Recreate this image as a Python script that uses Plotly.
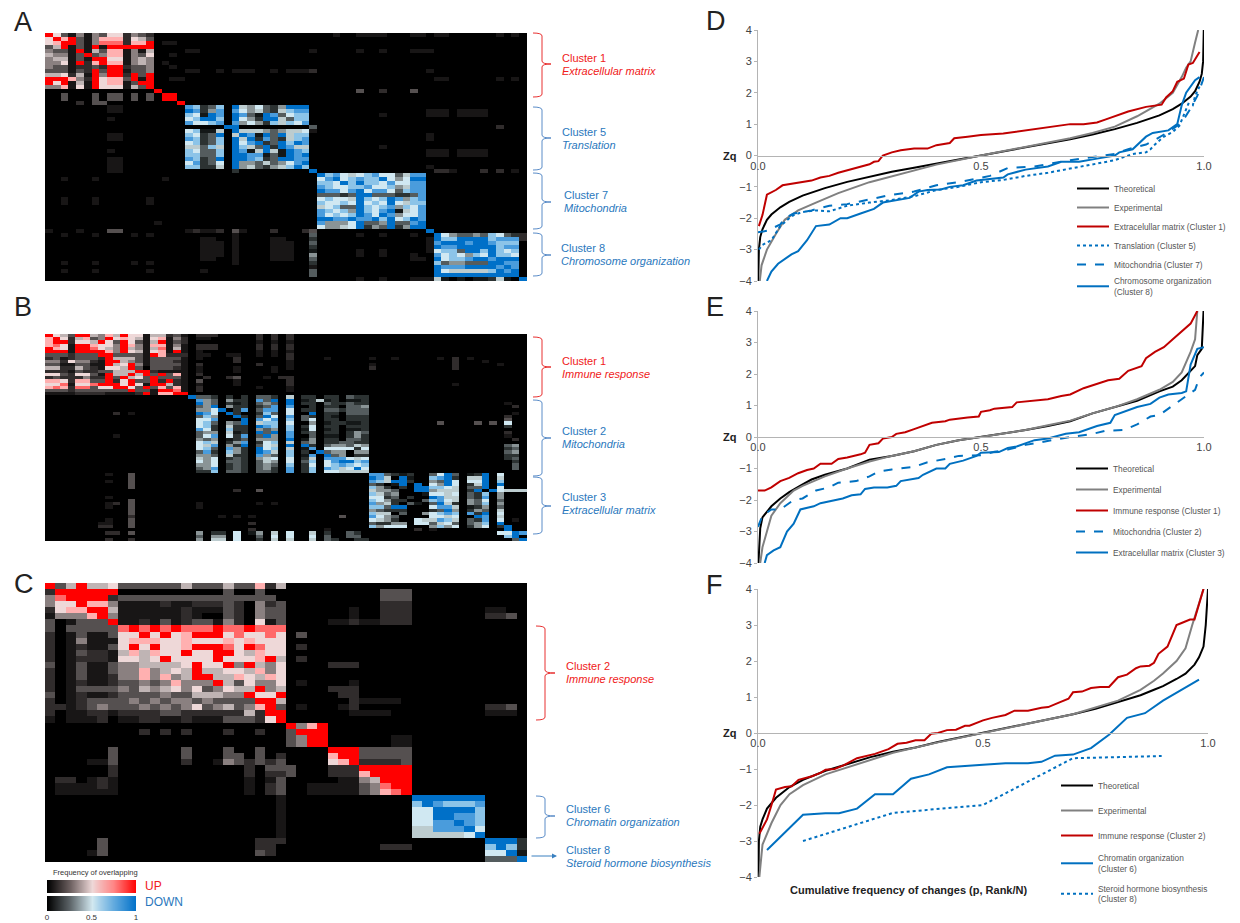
import plotly.graph_objects as go

W, H = 1240, 923
FONT = "Liberation Sans"
RED_TXT, BLUE_TXT = "#f02020", "#2a78bd"

# Heatmap cells: each row is "col:levels" tokens. 1-9 = up levels, a-i = down levels, . = 0
A_ROWS = [
"0:96314143662432 37:1 40:1111 47:11 50:11 58:1 60:1",
"0:69793147772653",
"0:67993148882779 15:11",
"0:35913191999999",
"0:43319153771415 18:1 19:1 34:1 40:1 43:1 47:111",
"0:54413934771436 16:1",
"0:45513199661454",
"0:44619279771454 15:1",
"0:43312232992334 16:1",
"0:33313293991334 18:11 22:1 24:111 29:1 31:111 34:2 49:1",
"0:55625194992939",
"0:99974296773919 16:11 50:11 58:1 60:1",
"0:96915196771399",
"0:44716196661539",
"14:9 40:3 43:2 47:3",
"2:3 6:3 8:33 11:3 13:3 15:99",
"2:3 6:3 8:33 11:3 13:3 15:99",
"4:2 6:33 17:9",
"8:11 18:hgbcg 24:iedfcbdiii",
"8:11 18:ihbdh 24:hfdecbeghh 49:11 51:1 53:1111",
"18:gfaih 24:ihcaihcfgg 43:1 49:11 51:1 53:1111",
"8:1 18:fgiig 24:ifdbiiecgg",
"18:hffgh 24:hdfdbgegfh",
"23:ii 34:c 58:2",
"18:fgaae 24:ieeedcdeef 34:1",
"8:11 18:gfbci 24:eihaiciegg 49:1",
"8:11 18:hgbcg 24:ieibhcbegh 49:1",
"18:fgbcg 24:ifhibcigih",
"18:eecge 24:igecibihee 43:1",
"8:1 18:gfccg 24:ihaeieaihg 49:11 51:1 53:1111",
"18:ggccg 24:iihhacaihi 49:11 51:1 53:1111",
"8:11 18:hgbci 24:iihgbciihh",
"8:11 18:fhbcf 24:iddcecdfhi",
"8:11 18:ggbbe 24:idecbdegig 49:1",
"8:11 24:b 34:i 50:22 52:1 56:2 58:2 60:1",
"35:ighfefghffcehh",
"2:1 6:1 15:1 35:fhifghggifdfii",
"35:ggfigiggfhffhh",
"35:hgffgghffgdehh",
"35:ihhfhifhhfcghh",
"35:cccbciicccbbch",
"2:1 6:1 13:1 35:fgffeigfgihdgh",
"2:1 6:1 13:1 35:gffgfifgfifegg",
"35:efgccigfghdgfh",
"35:hgfgdigfhiaefh",
"35:hfgfgihfihdffh",
"35:iihhihhigifgih",
"35:hdddficcdicchi 14:1",
"35:fddefibdcibdii",
"0:1 4:1 8:33 18:1 19:2 20:11 22:2 24:3 25:1 29:2 33:2 34:3 49:i",
"2:1 6:1 11:1 13:1 24:1 34:c 40:1 43:1 47:1 50:ifdccdcgfcb 61:2",
"20:11 24:1 29:11 34:b 49:1 50:iggiiiighhh 61:2",
"20:111 24:1 29:111 34:c 49:1 50:hiiihiihggg",
"20:111 24:1 29:111 34:b 49:1 50:ihhiiiiighh",
"20:111 24:1 29:111 34:a 40:1 43:1 49:1 50:fggciigigfg",
"20:111 24:1 29:111 34:d 40:1 43:1 47:1 50:hfgfdgfiggf",
"20:11 24:1 29:111 34:c 47:11 50:ifgghiihiii",
"2:1 6:1 11:1 13:1 24:1 34:b 50:gcddccciihh",
"34:1 50:ihhhiiiihih",
"2:1 6:1 13:1 20:1 34:c 50:ifeeeeegihi",
"34:c 50:iiiiiiiiiii",
"40:1 43:1 47:111 50:ea.a.aabea. 61:i",
]

B_ROWS = [
"0:9653995475966155231 20:222 28:2 30:2 32:2",
"0:7962573496765167142 20:11 28:2 30:2 32:2",
"0:7992665963963159132 28:1 30:1 32:1",
"0:7861997664974177141 20:222 28:2 30:2 32:2",
"0:9761998654954158151 20:222 28:2 30:2 32:2",
"0:9991999974965167191 20:1 28:1 30:1 32:1",
"0:3332333993333197222 20:11 24:11 28:1 30:1 32:2",
"0:2312333295553133331 20:1 25:2 32:2 37:1 43:1 46:1 52:1 54:2 56:1",
"0:4426442199543133321 25:2 32:1 54:2 58:1",
"0:3311331195694133331 20:2 28:2 32:1 43:1 54:2 60:1",
"0:5522532166593033321 20:1 25:1 30:1 32:1 43:2 54:2",
"0:2221322335559921111 20:1 25:1 30:1",
"0:6632663195595939371 20:2",
"0:2322242293956393331 21:2 24:2 25:3 29:1 31:2 32:2",
"0:7762773392693392921 20:3 25:1 32:2",
"0:6681668999696199521 20:1 25:1 32:2 54:1",
"0:7872883669963937371 20:2 28:1 32:1",
"0:3332333333393319981 20:2 32:1",
"0:1111222211112917799",
"19:i 20:ccb 24:b.b 28:ccb 32:e 34:bb 37:bb.cbb",
"20:hdc 24:dbb 28:hci 32:i 34:ab 36:e 37:ab.aab",
"20:idc 24:bab 28:cdc 32:i 34:bb 37:cbbcbb 61:1",
"20:cdi 24:dbb 28:bch 32:h 34:.b 37:bb.ccd 62:2",
"20:ddf 23:i 25:bh 28:chh 32:f 34:bb 37:ccbccc",
"9:2 11:1 20:ihf 24:ib. 28:bgc 32:f 34:.i 37:bb.ccc 62:1",
"20:cgd 25:ib 28:cif 32:h 34:cb 37:ba.bbb 61:2",
"20:ffh 25:.i 28:hfh 32:g 34:cf 37:bb.bbb 61:3",
"20:fgc 24:dci 28:egg 32:f 34:.d 37:abbaab 52:3 57:3 59:3 61:f",
"20:fgb 24:ebb 28:ihg 32:g 34:bf 37:bb.bbb 61:b",
"20:hfb 24:gbb 28:dcd 32:g 34:af 37:ab.aab",
"20:cdd 24:eab 28:ici 32:h 34:bc 37:bb.bdc 61:2",
"9:1 20:cfh 24:fbh 28:cid 32:h 34:.c 37:aa.bdb 61:1",
"20:dcd 24:abc 28:ddd 32:i 34:ad 37:bb.ccb 62:2",
"20:fge 24:bdh 28:bfg 32:e 34:cd 37:bbccbb",
"20:feh 24:dbi 28:cfe 32:i 34:ib 37:cddced 61:cd",
"20:fgc 24:hdb 28:ifg 32:e 34:ah 37:ffffbf 61:bc",
"20:chb 24:gdb 28:ihe 32:g 34:b.i 37:cdd.dd 61:cd",
"20:ddc 24:ebb 28:hdc 32:g 34:ah 37:icd.bb 61:bb",
"20:edf 24:bcb 28:def 32:f 34:be 37:hhhfef 61:bc",
"20:fdf 24:ccb 28:ced 32:f 34:cg 37:fhiigh 62:b",
"20:ddf 24:bcb 28:cdc 32:g 34:bf 37:fghgfg 62:c",
"20:cdh 24:bcb 28:cdb 32:h 34:bg 37:hgefif 62:c",
"20:bbg 24:ccb 28:ccb 32:h 34:bg 37:ffeeee",
"8:1 11:3 43:hhc 46:ba 48:b 51:cfic 56:abi 60:f",
"11:3 43:ihe 46:.i 48:a 51:ghib 56:eei 60:e",
"8:1 11:3 43:hge 46:ii 48:b 51:dcif 56:ffi 60:g",
"11:3 43:cb. 46:ai 49:i 51:fdif 56:bei 60:i",
"11:3 43:gdb 46:.b 49:ii 51:ggfe 56:cci 60:f",
"25:2 28:3 43:edd 46:c. 49:ii 51:deee 56:bi 59:i 60:feee",
"43:gec 46:d. 50:a 51:ffef 56:cbg 60:d",
"8:1 43:ffb 46:c 48:b 51:ihee 56:cbh 60:d",
"11:3 43:gfd 46:bb 50:c 51:ghfe 56:dcf 60:c",
"8:1 9:2 11:3 20:1 28:1 30:1 43:hde 46:b 48:ca 51:cieb 56:dcg 60:d",
"8:1 11:3 20:1 43:ggc 46:ii 51:fhhe 56:abd 60:c",
"11:3 43:dcb 46:bb 51:bcid 56:bdc 60:e",
"11:3 43:gee 46:.c 50:dd 51:fghg 56:hbi 60:f",
"11:2 23:1 25:1 27:1 39:3 43:hfd 46:c 51:ffef 57:ih 60:e",
"8:1 11:3 43:fed 46:b 49:fe 51:ehge 56:cbh 60:f 62:1",
"7:1 8:1 11:3 27:2 43:cbb 46:dd 49:ff 51:cefc 56:cdg 60:i",
"7:2 8:2 11:3 43:gdf 46:ff 51:dgdf 56:bdf 60:bi",
"27:2 37:1 49:2 51:1 61:i",
"8:22 11:3 20:d 22:bb 25:f 27:a 28:d 30:e 32:f 35:e 37:b 40:cb 60:ffih",
"20:c 22:dd 25:f 28:c 30:f 32:f 35:f 37:c 40:cc 61:gi",
"8:2 11:2 20:d 22:ee 25:f 28:b 30:e 32:e 35:e 37:cb 41:bb 62:ci",
]

C_ROWS = [
"0:9359556 7:333333 13:5 14:333 17:5 18:33 20:7 21:2 22:5",
"0:2999999 17:3 20:3 32:333",
"0:4899992 7:333333333333333 32:333",
"0:4669774 7:1111211222 17:3 18:2 20:4 21:2 22:3 32:222",
"0:2677995 7:1111112111 17:3 18:2 20:4 21:33 29:1 32:222 42:11",
"0:1444794 7:1111112 14:1 17:3 18:2 20:4 21:33 29:1 32:222 42:223",
"0:3.13339 7:1121312 14:3 15:3 16:1 17:4 18:2 20:6 21:1 22:3 27:11 29:2 30:111 32:222",
"0:3.3333333 7:8989898889889888",
"0:2.1311 6:3 7:6696967999686686 24:3",
"0:2.1411 6:1 7:6777667666767666",
"0:2.1211 6:3 7:6969667999869866 24:2",
"0:2.1322 6:1 7:5757669669965766",
"0:2.1222 6:1 7:6656966669666795 24:2",
"0:3.1311 6:3 7:4455556966949546 27:222",
"0:2.1311 6:3 7:4474565955665746",
"0:2.1311 6:2 7:4474745995576576",
"0:2.1211 6:2 7:3343474449536446 24:1 29:1",
"0:2.1333 6:3 7:4354564634655945 27:22 29:2",
"0:3.1211 6:2 7:3333433555449669 28:2 29:2",
"0:2.1233 6:3 7:3434344343333995 29:2 30:1111",
"0:22 2:1 3:2343 7:3343434634534793 24:1 28:1 29:2 42:223",
"0:2.1122 6:1 7:2222332222225299 29:1 30:111 42:111",
"0:1.1112 7:1122112111333 20:2 21:69",
"23:9479",
"9:2 11:2 13:2 17:2 20:2 23:3999",
"23:3499 33:11",
"23:3499 33:11",
"6:3 13:3 17:3 20:3 27:999 30:33333",
"6:3 13:3 17:3 18:3 20:3 22:2 27:799 30:33333",
"4:11 6:3 13:2 16:1 17:4 18:3 19:2 20:3 21:2 22:3 27:679 30:2222 34:3",
"6:2 19:2 21:333 27:222 30:99999",
"6:2 19:2 21:223 27:222 30:7 31:9 32:999",
"1:22 4:11 5:2 6:1 19:1 21:1 22:3 28:11 29:1 30:45 32:999",
"1:111 4:1 5:2 6:1 19:1 21:2 22:3 25:11 27:111 29:1 30:34 32:899",
"1:111 4:11 6:1 19:1 21:2 22:3 25:11 27:111 29:1 30:34 32:789",
"22:1 35:iiiiiii",
"22:1 35:gihgggh",
"22:1 35:ffiiiig",
"22:1 35:ffiihhg",
"22:1 35:ffhhihg",
"22:1 35:eehhhif",
"22:1 35:eeeeefi",
"5:3 20:222 42:iii 45:b",
"5:3 20:2 21:2 32:222 42:gig 45:b",
"4:1 5:3 20:3 21:2 42:ffi 45:a",
"42:ccc 45:i",
]

GRAD = [0, 0.1, 0.2, 0.3, 0.4, 0.5, 0.6, 0.7, 0.8, 0.9, 1]

SIGNED_SCALE = [
    [0.0, "#0070c8"], [0.0556, "#4a9cdc"], [0.1111, "#8cc4e8"], [0.1667, "#d0e8f2"], [0.2222, "#bccccf"],
    [0.2778, "#8a9496"], [0.3333, "#545c5e"], [0.3889, "#2c3232"], [0.4444, "#141818"], [0.5, "#000000"],
    [0.5556, "#181616"], [0.6111, "#302c2c"], [0.6667, "#555050"], [0.7222, "#8a8080"], [0.7778, "#bfb4b4"],
    [0.8333, "#eed8d8"], [0.8889, "#ffb0b0"], [0.9444, "#ff6868"], [1.0, "#ff0000"],
]
UP_SCALE = [[0, "#000000"], [0.25, "#6a5e5e"], [0.5, "#eed8d8"], [0.75, "#ff8484"], [1, "#ff0000"]]
DOWN_SCALE = [[0, "#000000"], [0.25, "#5c6468"], [0.5, "#d2e8f0"], [0.75, "#62aade"], [1, "#0070c8"]]

LEVELS = {c: (i + 1) / 9 for i, c in enumerate("123456789")}
LEVELS.update({c: -(i + 1) / 9 for i, c in enumerate("abcdefghi")})


def parse(rows, n):
    out = []
    for r in rows[:n]:
        cells = [0.0] * n
        for tok in r.split():
            col, vals = tok.split(":")
            col = int(col)
            for k, ch in enumerate(vals):
                if col + k < n:
                    cells[col + k] = LEVELS.get(ch, 0.0)
        out.append(cells)
    while len(out) < n:
        out.append([0.0] * n)
    return out


# Curves
D_THEO_X = [0.0005, 0.002, 0.005, 0.01, 0.02, 0.03, 0.05, 0.07, 0.1, 0.15, 0.2, 0.25, 0.3, 0.35, 0.4, 0.45, 0.5, 0.55, 0.6, 0.65, 0.7, 0.75, 0.8, 0.85, 0.9, 0.93, 0.95, 0.97, 0.98, 0.99, 0.995, 0.998, 0.9995]
D_THEO_Y = [-4, -3.0, -2.6, -2.35, -2.05, -1.88, -1.65, -1.48, -1.28, -1.04, -0.84, -0.67, -0.52, -0.39, -0.25, -0.13, 0, 0.13, 0.25, 0.39, 0.52, 0.67, 0.84, 1.04, 1.28, 1.48, 1.65, 1.88, 2.05, 2.35, 2.6, 3.0, 4]
D_EXP_X = [0.004, 0.008, 0.02, 0.04, 0.06, 0.09, 0.13, 0.18, 0.25, 0.32, 0.4, 0.5, 0.6, 0.7, 0.75, 0.8, 0.85, 0.9, 0.93, 0.95, 0.96, 0.97, 0.98, 0.987]
D_EXP_Y = [-4, -3.5, -3.0, -2.5, -2.05, -1.75, -1.5, -1.2, -0.85, -0.58, -0.29, 0, 0.27, 0.55, 0.72, 0.92, 1.25, 1.65, 2.0, 2.5, 2.8, 3.0, 3.6, 4]
D_RED_X = [0.002, 0.01, 0.02, 0.04, 0.055, 0.08, 0.1, 0.12, 0.14, 0.16, 0.18, 0.2, 0.22, 0.25, 0.26, 0.27, 0.28, 0.3, 0.32, 0.35, 0.38, 0.4, 0.43, 0.44, 0.47, 0.5, 0.55, 0.6, 0.65, 0.7, 0.73, 0.76, 0.78, 0.8, 0.83, 0.87, 0.89, 0.905, 0.915, 0.93, 0.94, 0.955, 0.965, 0.975, 0.99]
D_RED_Y = [-2.25, -1.9, -1.25, -1.1, -0.95, -0.9, -0.85, -0.8, -0.7, -0.65, -0.55, -0.47, -0.4, -0.28, -0.2, -0.18, 0.0, 0.1, 0.17, 0.22, 0.22, 0.33, 0.4, 0.55, 0.6, 0.65, 0.7, 0.8, 0.92, 1.0, 1.0, 1.05, 1.15, 1.25, 1.4, 1.55, 1.6, 1.62, 1.85, 2.05, 2.35, 2.45, 2.9, 2.95, 3.3]
D_TRANS_X = [0.002, 0.01, 0.03, 0.05, 0.07, 0.08, 0.1, 0.13, 0.16, 0.18, 0.2, 0.25, 0.3, 0.35, 0.4, 0.45, 0.5, 0.55, 0.6, 0.65, 0.7, 0.75, 0.8, 0.84, 0.87, 0.88, 0.89, 0.91, 0.93, 0.945, 0.955, 0.965, 0.975, 0.98, 0.99]
D_TRANS_Y = [-3.0, -2.85, -2.7, -2.25, -2.0, -1.9, -1.8, -1.75, -1.78, -1.7, -1.6, -1.5, -1.42, -1.3, -1.1, -1.0, -0.85, -0.78, -0.65, -0.55, -0.42, -0.3, -0.15, 0.05, 0.1, 0.2, 0.35, 0.6, 0.75, 0.95, 1.3, 1.65, 1.6, 1.9, 2.2]
D_MITO_X = [0.0, 0.02, 0.05, 0.06, 0.08, 0.12, 0.16, 0.2, 0.25, 0.3, 0.35, 0.4, 0.45, 0.5, 0.52, 0.56, 0.62, 0.66, 0.7, 0.75, 0.8, 0.83, 0.87, 0.89, 0.92, 0.95, 0.97, 0.985, 1.0]
D_MITO_Y = [-2.45, -2.4, -2.2, -2.0, -1.85, -1.75, -1.6, -1.55, -1.4, -1.25, -1.15, -0.95, -0.85, -0.7, -0.65, -0.4, -0.35, -0.25, -0.15, -0.05, 0.05, 0.2, 0.35, 0.5, 0.75, 1.05, 1.5, 1.9, 2.5]
D_CHROM_X = [0.02, 0.03, 0.045, 0.06, 0.075, 0.09, 0.11, 0.13, 0.16, 0.185, 0.2, 0.23, 0.25, 0.26, 0.28, 0.32, 0.34, 0.36, 0.38, 0.41, 0.43, 0.46, 0.49, 0.55, 0.56, 0.6, 0.65, 0.68, 0.72, 0.76, 0.8, 0.81, 0.84, 0.87, 0.885, 0.92, 0.94, 0.95, 0.96, 0.98, 0.99]
D_CHROM_Y = [-4, -3.7, -3.45, -3.3, -3.15, -3.05, -2.7, -2.25, -2.2, -2.0, -2.0, -1.85, -1.75, -1.7, -1.5, -1.4, -1.35, -1.15, -1.1, -1.08, -1.0, -0.95, -0.8, -0.7, -0.6, -0.45, -0.35, -0.2, -0.2, -0.1, 0.0, 0.1, 0.2, 0.6, 0.72, 0.8, 1.0, 1.6, 2.0, 2.4, 2.5]

E_THEO_X = [0.001, 0.005, 0.01, 0.03, 0.05, 0.07, 0.1, 0.12, 0.15, 0.2, 0.25, 0.3, 0.35, 0.4, 0.45, 0.5, 0.55, 0.6, 0.65, 0.7, 0.75, 0.8, 0.85, 0.9, 0.93, 0.95, 0.97, 0.98, 0.985, 0.995, 0.999]
E_THEO_Y = [-4, -2.9, -2.55, -2.2, -1.95, -1.75, -1.5, -1.35, -1.2, -1.0, -0.72, -0.6, -0.45, -0.25, -0.1, 0, 0.12, 0.22, 0.35, 0.5, 0.75, 0.95, 1.15, 1.45, 1.6, 1.8, 2.1, 2.25, 2.6, 2.8, 4]
E_EXP_X = [0.005, 0.01, 0.02, 0.03, 0.05, 0.08, 0.1, 0.15, 0.2, 0.25, 0.3, 0.35, 0.4, 0.45, 0.5, 0.55, 0.6, 0.65, 0.7, 0.75, 0.8, 0.85, 0.9, 0.93, 0.95, 0.97, 0.98, 0.985]
E_EXP_Y = [-4, -3.5, -3.0, -2.5, -2.1, -1.7, -1.55, -1.25, -1.0, -0.78, -0.6, -0.45, -0.25, -0.1, 0, 0.12, 0.22, 0.37, 0.52, 0.75, 0.95, 1.2, 1.5, 1.75, 2.05, 2.7, 3.1, 4]
E_RED_X = [0.0, 0.015, 0.03, 0.05, 0.07, 0.09, 0.11, 0.125, 0.14, 0.165, 0.18, 0.2, 0.23, 0.24, 0.25, 0.27, 0.28, 0.3, 0.31, 0.33, 0.35, 0.37, 0.39, 0.42, 0.43, 0.47, 0.495, 0.5, 0.52, 0.53, 0.57, 0.58, 0.62, 0.65, 0.68, 0.7, 0.73, 0.76, 0.785, 0.81, 0.83, 0.86, 0.87, 0.89, 0.91, 0.93, 0.95, 0.97, 0.985]
E_RED_Y = [-1.7, -1.7, -1.6, -1.4, -1.3, -1.15, -1.05, -1.0, -0.85, -0.85, -0.7, -0.65, -0.55, -0.5, -0.25, -0.2, -0.05, 0.0, 0.1, 0.15, 0.25, 0.35, 0.45, 0.5, 0.55, 0.62, 0.65, 0.8, 0.85, 0.9, 0.95, 1.1, 1.15, 1.2, 1.3, 1.35, 1.55, 1.7, 1.8, 1.85, 2.1, 2.25, 2.5, 2.7, 2.85, 3.1, 3.35, 3.6, 4]
E_MITO_X = [0.0, 0.01, 0.03, 0.05, 0.08, 0.1, 0.13, 0.16, 0.18, 0.22, 0.25, 0.27, 0.3, 0.35, 0.38, 0.42, 0.45, 0.5, 0.53, 0.56, 0.6, 0.62, 0.66, 0.7, 0.75, 0.78, 0.82, 0.85, 0.88, 0.9, 0.93, 0.96, 0.98, 0.99, 1.0]
E_MITO_Y = [-2.85, -2.5, -2.3, -2.3, -2.0, -1.95, -1.7, -1.6, -1.45, -1.4, -1.25, -1.1, -1.03, -0.95, -0.8, -0.7, -0.6, -0.58, -0.47, -0.4, -0.25, -0.2, -0.1, 0.0, 0.1, 0.2, 0.22, 0.4, 0.65, 0.7, 1.0, 1.3, 1.5, 1.9, 2.05]
E_CELL_X = [0.015, 0.02, 0.035, 0.05, 0.065, 0.08, 0.095, 0.11, 0.125, 0.14, 0.17, 0.19, 0.21, 0.23, 0.24, 0.26, 0.29, 0.31, 0.32, 0.36, 0.37, 0.4, 0.42, 0.43, 0.46, 0.47, 0.49, 0.5, 0.54, 0.56, 0.58, 0.62, 0.65, 0.69, 0.72, 0.76, 0.79, 0.8, 0.85, 0.88, 0.9, 0.92, 0.95, 0.96, 0.97, 0.985, 1.0]
E_CELL_Y = [-4, -3.75, -3.6, -3.5, -3.0, -2.75, -2.3, -2.25, -2.2, -2.1, -2.0, -1.95, -1.85, -1.82, -1.65, -1.6, -1.6, -1.55, -1.4, -1.3, -1.2, -1.0, -1.0, -0.85, -0.75, -0.7, -0.6, -0.5, -0.48, -0.35, -0.3, -0.1, -0.05, 0.1, 0.15, 0.35, 0.45, 0.7, 0.95, 1.05, 1.25, 1.35, 1.4, 1.45, 2.3, 2.8, 2.85]

F_THEO_X = [0.001, 0.002, 0.005, 0.01, 0.02, 0.04, 0.07, 0.1, 0.15, 0.2, 0.25, 0.3, 0.35, 0.4, 0.45, 0.5, 0.55, 0.6, 0.65, 0.7, 0.75, 0.8, 0.85, 0.88, 0.9, 0.93, 0.95, 0.97, 0.98, 0.99, 0.995, 1.0]
F_THEO_Y = [-4, -3.0, -2.6, -2.4, -2.1, -1.8, -1.5, -1.3, -1.05, -0.85, -0.67, -0.52, -0.4, -0.25, -0.12, 0, 0.12, 0.25, 0.4, 0.52, 0.67, 0.85, 1.05, 1.2, 1.3, 1.5, 1.65, 1.9, 2.1, 2.4, 3.0, 4]
F_EXP_X = [0.003, 0.01, 0.03, 0.05, 0.07, 0.1, 0.15, 0.2, 0.3, 0.4, 0.5, 0.6, 0.7, 0.8, 0.85, 0.88, 0.9, 0.93, 0.95, 0.965, 0.98, 0.99]
F_EXP_Y = [-4, -3.1, -2.5, -2.0, -1.7, -1.45, -1.15, -0.95, -0.55, -0.26, 0, 0.26, 0.52, 0.9, 1.2, 1.45, 1.65, 2.0, 2.35, 3.0, 3.6, 4]
F_RED_X = [0.003, 0.02, 0.03, 0.04, 0.06, 0.075, 0.09, 0.12, 0.14, 0.15, 0.17, 0.19, 0.22, 0.24, 0.26, 0.29, 0.31, 0.33, 0.35, 0.37, 0.385, 0.4, 0.42, 0.44, 0.46, 0.47, 0.5, 0.52, 0.53, 0.55, 0.57, 0.6, 0.63, 0.645, 0.67, 0.69, 0.7, 0.72, 0.74, 0.76, 0.78, 0.8, 0.82, 0.84, 0.85, 0.87, 0.88, 0.89, 0.91, 0.93, 0.94, 0.96, 0.97, 0.98, 0.99]
F_RED_Y = [-2.8, -2.4, -2.0, -1.57, -1.5, -1.48, -1.3, -1.2, -1.1, -1.02, -1.0, -0.9, -0.7, -0.65, -0.58, -0.45, -0.3, -0.27, -0.2, -0.2, -0.02, 0.0, 0.08, 0.09, 0.2, 0.2, 0.35, 0.42, 0.45, 0.5, 0.62, 0.62, 0.7, 0.72, 0.85, 0.95, 1.13, 1.15, 1.25, 1.28, 1.28, 1.55, 1.62, 1.8, 1.85, 1.87, 1.95, 2.2, 2.4, 3.0, 3.05, 3.15, 3.15, 3.6, 4]
F_CHROM_X = [0.02, 0.06, 0.1, 0.15, 0.18, 0.22, 0.26, 0.3, 0.34, 0.38, 0.42, 0.5, 0.55, 0.6, 0.63, 0.66, 0.7, 0.74, 0.78, 0.82, 0.86, 0.9, 0.94, 0.98]
F_CHROM_Y = [-3.25, -2.75, -2.27, -2.23, -2.23, -2.1, -1.7, -1.7, -1.27, -1.15, -0.95, -0.88, -0.84, -0.84, -0.8, -0.63, -0.6, -0.42, -0.05, 0.42, 0.55, 0.9, 1.2, 1.48]
F_STER_X = [0.1, 0.3, 0.5, 0.7, 0.897]
F_STER_Y = [-3.0, -2.22, -2.0, -0.7, -0.64]

BLACK, GRAY, RED, BLUE = "#000000", "#808080", "#c00000", "#0070c0"


def px(x):
    return x / W


def py(y):
    return 1 - y / H


fig = go.Figure()
layout = dict(
    width=W, height=H, margin=dict(l=0, r=0, t=0, b=0, autoexpand=False),
    paper_bgcolor="white", plot_bgcolor="white",
    font=dict(family=FONT, size=11, color="#333333"),
    showlegend=True,
)

# heatmap panels
panels = [
    (A_ROWS, 62, (45, 527, 33, 281)),
    (B_ROWS, 64, (45, 527, 334, 541)),
    (C_ROWS, 46, (45, 527, 583, 862)),
]
for i, (rows, n, (x0, x1, y0, y1)) in enumerate(panels, start=1):
    s = "" if i == 1 else str(i)
    fig.add_trace(go.Heatmap(z=parse(rows, n), colorscale=SIGNED_SCALE, zmin=-1, zmax=1,
                             showscale=False, xaxis="x" + s, yaxis="y" + s, hoverinfo="skip",
                             showlegend=False))
    layout["xaxis" + s] = dict(domain=[px(x0), px(x1)], anchor="y" + s, range=[-0.5, n - 0.5],
                               visible=False)
    layout["yaxis" + s] = dict(domain=[py(y1), py(y0)], anchor="x" + s, range=[n - 0.5, -0.5],
                               visible=False)

# frequency bars
for ax, scale, (y0, y1), with_ticks in [(7, UP_SCALE, (880, 893), False), (8, DOWN_SCALE, (896, 911), True)]:
    fig.add_trace(go.Heatmap(x=GRAD, z=[GRAD], colorscale=scale,
                             zmin=0, zmax=1, zsmooth="best", showscale=False, hoverinfo="skip",
                             xaxis=f"x{ax}", yaxis=f"y{ax}", showlegend=False))
    layout[f"xaxis{ax}"] = dict(domain=[px(47), px(136)], anchor=f"y{ax}", range=[0, 1],
                                tickvals=[0, 0.5, 1], ticktext=["0", "0.5", "1"],
                                showticklabels=with_ticks, ticks="", showgrid=False, zeroline=False,
                                tickfont=dict(size=8, color="#333333"))
    layout[f"yaxis{ax}"] = dict(domain=[py(y1), py(y0)], anchor=f"x{ax}", visible=False)

# curve panels
curves = [
    (4, "legend", (758, 1204, 30, 281), (1072, 174), 0, [
        ("Theoretical", D_THEO_X, D_THEO_Y, BLACK, "solid"),
        ("Experimental", D_EXP_X, D_EXP_Y, GRAY, "solid"),
        ("Extracelullar matrix (Cluster 1)", D_RED_X, D_RED_Y, RED, "solid"),
        ("Translation (Cluster 5)", D_TRANS_X, D_TRANS_Y, BLUE, "dot"),
        ("Mitochondria (Cluster 7)", D_MITO_X, D_MITO_Y, BLUE, "dash"),
        ("Chromosome organization<br>(Cluster 8)", D_CHROM_X, D_CHROM_Y, BLUE, "solid"),
    ]),
    (5, "legend2", (758, 1204, 311, 563), (1071, 454), 2, [
        ("Theoretical", E_THEO_X, E_THEO_Y, BLACK, "solid"),
        ("Experimental", E_EXP_X, E_EXP_Y, GRAY, "solid"),
        ("Immune response (Cluster 1)", E_RED_X, E_RED_Y, RED, "solid"),
        ("Mitochondria (Cluster 2)", E_MITO_X, E_MITO_Y, BLUE, "dash"),
        ("Extracelullar matrix (Cluster 3)", E_CELL_X, E_CELL_Y, BLUE, "solid"),
    ]),
    (6, "legend3", (758, 1208, 589, 877), (1056, 771), 6, [
        ("Theoretical", F_THEO_X, F_THEO_Y, BLACK, "solid"),
        ("Experimental", F_EXP_X, F_EXP_Y, GRAY, "solid"),
        ("Immune response (Cluster 2)", F_RED_X, F_RED_Y, RED, "solid"),
        ("Chromatin organization<br>(Cluster 6)", F_CHROM_X, F_CHROM_Y, BLUE, "solid"),
        ("Steroid hormone biosynthesis<br>(Cluster 8)", F_STER_X, F_STER_Y, BLUE, "dot"),
    ]),
]
AXIS = "#b4b4b4"
annotations = []
for ax, leg, (x0, x1, y0, y1), (lx, ly), gap, series in curves:
    for name, xs, ys, col, dash in series:
        fig.add_trace(go.Scatter(x=xs, y=ys, mode="lines", name=name, xaxis=f"x{ax}", yaxis=f"y{ax}",
                                 line=dict(color=col, width=2, dash=dash), legend=leg,
                                 legendgroup=leg + name, hoverinfo="skip"))
    layout[f"xaxis{ax}"] = dict(domain=[px(x0), px(x1)], anchor="free", position=py((y0 + y1) / 2),
                                range=[0, 1], tickvals=[0, 0.5, 1], ticktext=["0.0", "0.5", "1.0"],
                                showline=True, linecolor=AXIS, linewidth=1, ticks="", showgrid=False,
                                zeroline=False, tickfont=dict(size=11, color="#444444"))
    layout[f"yaxis{ax}"] = dict(domain=[py(y1), py(y0)], anchor=f"x{ax}", range=[-4, 4],
                                tickvals=[-4, -3, -2, -1, 0, 1, 2, 3, 4], showline=True,
                                linecolor=AXIS, linewidth=1, ticks="outside", ticklen=3,
                                tickcolor=AXIS, showgrid=False, zeroline=False,
                                tickfont=dict(size=11, color="#444444"))
    layout[leg] = dict(x=px(lx), y=py(ly), xanchor="left", yanchor="top", bgcolor="rgba(0,0,0,0)",
                       font=dict(size=8.3, color="#555555", family=FONT), itemwidth=32,
                       tracegroupgap=gap, borderwidth=0)
    annotations.append(dict(text="<b>Zq</b>", x=px(729), y=py((y0 + y1) / 2), xref="paper", yref="paper",
                            showarrow=False, xanchor="center", yanchor="middle",
                            font=dict(size=11, color="#222222")))


def label(text, x, y, size=11, color="#333333"):
    annotations.append(dict(text=text, x=px(x), y=py(y), xref="paper", yref="paper", showarrow=False,
                            xanchor="left", yanchor="middle", font=dict(size=size, color=color, family=FONT)))


for t, x, y in [("A", 12, 22), ("B", 12, 307), ("C", 12, 584), ("D", 704, 21), ("E", 704, 307), ("F", 704, 585)]:
    label(t, x, y, 27, "#222222")

TEXTS = [
    ("Cluster 1", "Extracellular matrix", 560, 58, RED_TXT),
    ("Cluster 5", "Translation", 560, 132, BLUE_TXT),
    ("Cluster 7", "Mitochondria", 562, 195, BLUE_TXT),
    ("Cluster 8", "Chromosome organization", 559, 248, BLUE_TXT),
    ("Cluster 1", "Immune response", 560, 361, RED_TXT),
    ("Cluster 2", "Mitochondria", 560, 431, BLUE_TXT),
    ("Cluster 3", "Extracellular matrix", 560, 497, BLUE_TXT),
    ("Cluster 2", "Immune response", 564, 666, RED_TXT),
    ("Cluster 6", "Chromatin organization", 564, 809, BLUE_TXT),
    ("Cluster 8", "Steroid hormone biosynthesis", 564, 850, BLUE_TXT),
]
for a, b, x, y, c in TEXTS:
    label(a, x, y, 11, c)
    label(f"<i>{b}</i>", x, y + 13, 11, c)

label("Frequency of overlapping", 51, 872, 7.5, "#333333")
label("UP", 143, 886, 12, "#f02020")
label("DOWN", 143, 902, 12, BLUE_TXT)
annotations.append(dict(
    text="<b>Cumulative frequency of changes (p, Rank/N)</b>", x=px(908), y=py(890), xref="paper", yref="paper",
    showarrow=False, xanchor="center", yanchor="middle", font=dict(size=11, color="#222222")))
annotations.append(dict(text="", x=px(557), y=py(856), ax=-27, ay=0, xref="paper", yref="paper",
                        showarrow=True, arrowhead=2, arrowsize=1,
                        arrowwidth=1, arrowcolor="#3a80c0"))


def bracket(xl, xv, tip, y0, ym, y1, col):
    r = 3
    p = (f"M {px(xl)} {py(y0)} Q {px(xv)} {py(y0)} {px(xv)} {py(y0 + r)} L {px(xv)} {py(ym - r)} "
         f"Q {px(xv)} {py(ym)} {px(tip)} {py(ym)} Q {px(xv)} {py(ym)} {px(xv)} {py(ym + r)} "
         f"L {px(xv)} {py(y1 - r)} Q {px(xv)} {py(y1)} {px(xl)} {py(y1)}")
    return dict(type="path", path=p, xref="paper", yref="paper", line=dict(color=col, width=1))


R, B2 = "#e83030", "#5a8cc8"
layout["shapes"] = [
    bracket(533, 542, 551, 33, 64, 97, R),
    bracket(533, 542, 551, 107, 138, 170, B2),
    bracket(533, 542, 551, 173, 202, 229, B2),
    bracket(533, 542, 551, 233, 255, 276, B2),
    bracket(533, 542, 551, 337, 367, 397, R),
    bracket(533, 542, 551, 400, 438, 476, B2),
    bracket(533, 542, 551, 477, 506, 534, B2),
    bracket(536, 545, 555, 626, 673, 720, R),
    bracket(536, 545, 555, 796, 816, 838, B2),
]
layout["annotations"] = annotations
fig.update_layout(**layout)
fig.write_html("out.html", config={"displayModeBar": False},
               post_script="document.body.style.margin='0';document.body.style.overflow='hidden';")
